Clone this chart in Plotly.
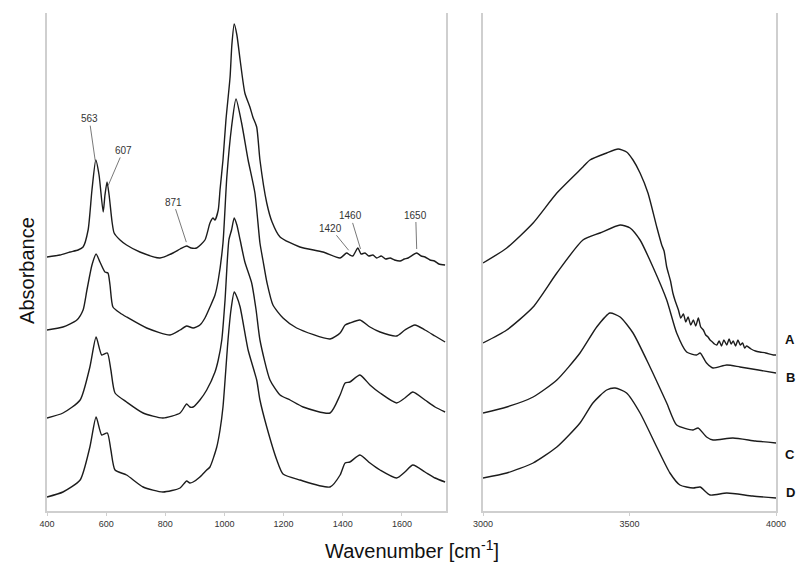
import numpy as np
import plotly.graph_objects as go

# ---------------- data (wavenumber in cm-1, absorbance in offset a.u.) ----------------
# Left panel (400 - 1750 cm-1)
A_low_x = [400, 444, 478, 505, 522, 539, 552, 565, 576, 590, 596, 603, 610, 620, 627, 647, 669, 714,
           782, 826, 850, 872, 887, 906, 934, 951, 961, 968, 979, 985, 995, 1005, 1019, 1025, 1033,
           1042, 1053, 1069, 1086, 1096, 1109, 1120, 1143, 1161, 1188, 1255, 1333, 1391, 1413, 1424,
           1434, 1451, 1462, 1475, 1488, 1502, 1515, 1530, 1545, 1560, 1575, 1594, 1608, 1621, 1650,
           1665, 1678, 1695, 1710, 1725, 1746]
A_low_y = [2.54, 2.56, 2.59, 2.61, 2.64, 2.81, 3.21, 3.51, 3.36, 2.99, 3.16, 3.29, 3.16, 2.89, 2.78,
           2.71, 2.66, 2.59, 2.53, 2.58, 2.62, 2.65, 2.63, 2.63, 2.71, 2.88, 2.93, 2.91, 3.01, 3.21,
           3.51, 3.91, 4.34, 4.66, 4.87, 4.76, 4.51, 4.18, 4.04, 3.94, 3.84, 3.51, 3.08, 2.89, 2.74,
           2.64, 2.59, 2.53, 2.58, 2.56, 2.55, 2.63, 2.57, 2.58, 2.55, 2.56, 2.53, 2.55, 2.52, 2.53,
           2.51, 2.50, 2.52, 2.53, 2.58, 2.55, 2.54, 2.51, 2.50, 2.47, 2.46]

B_low_x = [400, 454, 501, 522, 535, 552, 566, 579, 596, 606, 613, 623, 647, 669, 737, 816, 850, 872,
           894, 917, 934, 951, 968, 979, 995, 1008, 1024, 1039, 1058, 1080, 1103, 1120, 1130, 1144,
           1164, 1198, 1244, 1357, 1391, 1408, 1424, 1458, 1492, 1526, 1582, 1610, 1644, 1678, 1712,
           1746]
B_low_y = [1.81, 1.84, 1.91, 2.01, 2.21, 2.46, 2.57, 2.49, 2.39, 2.38, 2.26, 2.04, 1.98, 1.94, 1.83,
           1.76, 1.81, 1.85, 1.83, 1.86, 1.93, 2.04, 2.16, 2.31, 2.68, 3.34, 3.84, 4.12, 3.88, 3.51,
           3.18, 2.68, 2.51, 2.28, 2.06, 1.93, 1.83, 1.72, 1.78, 1.86, 1.88, 1.91, 1.84, 1.79, 1.75,
           1.81, 1.86, 1.81, 1.75, 1.69]

C_low_x = [400, 454, 512, 545, 566, 585, 604, 616, 630, 669, 725, 792, 850, 872, 883, 894, 917, 940,
           968, 979, 991, 1002, 1015, 1024, 1033, 1042, 1053, 1069, 1092, 1107, 1120, 1154, 1188,
           1222, 1266, 1357, 1391, 1408, 1424, 1458, 1492, 1526, 1582, 1610, 1637, 1678, 1712, 1746]
C_low_y = [0.93, 0.98, 1.11, 1.44, 1.74, 1.56, 1.58, 1.41, 1.18, 1.09, 0.98, 0.93, 0.98, 1.07, 1.04,
           1.04, 1.11, 1.21, 1.39, 1.51, 1.71, 2.11, 2.71, 2.81, 2.93, 2.86, 2.71, 2.49, 2.28, 2.01,
           1.71, 1.31, 1.16, 1.11, 1.04, 0.98, 1.16, 1.28, 1.29, 1.36, 1.26, 1.18, 1.08, 1.13, 1.19,
           1.11, 1.04, 0.99]

D_low_x = [400, 454, 512, 545, 566, 585, 604, 616, 630, 669, 725, 792, 850, 872, 883, 894, 917, 940,
           951, 974, 985, 995, 1012, 1022, 1033, 1042, 1053, 1080, 1109, 1120, 1143, 1177, 1198,
           1255, 1357, 1391, 1408, 1424, 1458, 1492, 1526, 1582, 1610, 1637, 1678, 1712, 1746]
D_low_y = [0.14, 0.19, 0.31, 0.64, 0.94, 0.76, 0.78, 0.61, 0.41, 0.36, 0.24, 0.19, 0.23, 0.30, 0.28,
           0.29, 0.34, 0.41, 0.44, 0.64, 0.81, 1.04, 1.71, 2.01, 2.19, 2.14, 2.04, 1.61, 1.31, 1.11,
           0.84, 0.51, 0.37, 0.31, 0.24, 0.36, 0.48, 0.49, 0.56, 0.48, 0.41, 0.33, 0.39, 0.46, 0.39,
           0.33, 0.29]

# Right panel (3000 - 4000 cm-1)
A_high_x = [3000, 3081, 3171, 3252, 3341, 3365, 3422, 3461, 3490, 3512, 3536, 3563, 3593, 3610, 3618,
            3627, 3640, 3648, 3656, 3667, 3675, 3684, 3692, 3700, 3709, 3718, 3726, 3735, 3743, 3752,
            3760, 3768, 3775, 3783, 3790, 3798, 3806, 3814, 3822, 3832, 3840, 3847, 3854, 3862, 3870,
            3878, 3886, 3893, 3900, 3915, 3930, 3945, 3965, 3991, 4000]
A_high_y = [2.48, 2.63, 2.88, 3.18, 3.44, 3.51, 3.58, 3.62, 3.59, 3.51, 3.38, 3.18, 2.84, 2.66, 2.60,
            2.44, 2.30, 2.18, 2.10, 2.01, 1.93, 1.97, 1.89, 1.94, 1.86, 1.91, 1.85, 1.93, 1.84, 1.81,
            1.76, 1.74, 1.71, 1.69, 1.67, 1.66, 1.70, 1.65, 1.71, 1.66, 1.72, 1.67, 1.70, 1.65, 1.71,
            1.66, 1.68, 1.63, 1.65, 1.62, 1.60, 1.59, 1.58, 1.56, 1.56]

B_high_x = [3000, 3081, 3171, 3252, 3341, 3399, 3468, 3502, 3536, 3580, 3627, 3661, 3695, 3729, 3741,
            3763, 3785, 3832, 3877, 3940, 4000]
B_high_y = [1.68, 1.81, 2.04, 2.38, 2.71, 2.78, 2.86, 2.83, 2.71, 2.44, 2.11, 1.78, 1.59, 1.56, 1.58,
            1.48, 1.43, 1.46, 1.44, 1.41, 1.38]

C_high_x = [3000, 3081, 3171, 3252, 3331, 3388, 3433, 3468, 3512, 3570, 3627, 3661, 3717, 3734, 3763,
            3785, 3853, 3930, 4000]
C_high_y = [0.98, 1.04, 1.14, 1.31, 1.58, 1.84, 1.98, 1.94, 1.78, 1.44, 1.08, 0.86, 0.81, 0.83, 0.74,
            0.71, 0.73, 0.70, 0.68]

D_high_x = [3000, 3081, 3171, 3252, 3331, 3375, 3422, 3451, 3490, 3536, 3593, 3638, 3672, 3717, 3741,
            3775, 3832, 3920, 4000]
D_high_y = [0.33, 0.38, 0.48, 0.64, 0.88, 1.08, 1.21, 1.23, 1.18, 0.98, 0.64, 0.38, 0.26, 0.23, 0.24,
            0.16, 0.18, 0.15, 0.13]

sample_names = ["A", "B", "C", "D"]
peak_labels = [563, 607, 871, 1420, 1460, 1650]
low_ticks = [400, 600, 800, 1000, 1200, 1400, 1600]
high_ticks = [3000, 3500, 4000]

# ---------------- styling / layout ----------------
LINE = "#1c1c1c"
AXIS = "#cfcfcf"
FONT = "Liberation Sans, Arial, sans-serif"
NARROW = "Liberation Sans Narrow, Liberation Sans, Arial, sans-serif"

low_series = [(A_low_x, A_low_y), (B_low_x, B_low_y), (C_low_x, C_low_y), (D_low_x, D_low_y)]
high_series = [(A_high_x, A_high_y), (B_high_x, B_high_y), (C_high_x, C_high_y), (D_high_x, D_high_y)]

fig = go.Figure()
for name, (lx, ly), (hx, hy) in zip(sample_names, low_series, high_series):
    fig.add_trace(go.Scatter(x=lx, y=ly, mode="lines", name=name, xaxis="x", yaxis="y",
                             line=dict(color=LINE, width=1.4, shape="spline", smoothing=0.6),
                             showlegend=False, hoverinfo="skip"))
    fig.add_trace(go.Scatter(x=hx, y=hy, mode="lines", name=name, xaxis="x2", yaxis="y2",
                             line=dict(color=LINE, width=1.4, shape="spline", smoothing=0.6),
                             showlegend=False, hoverinfo="skip"))

# peak labels on spectrum A (pixel offsets of the text from the marked point)
label_offsets = {563: (-6, -42), 607: (15, -35), 871: (-13, -40),
                 1420: (-18, -22), 1460: (-10, -33), 1650: (-1, -34)}
annotations = []
for p in peak_labels:
    ax, ay = label_offsets[p]
    annotations.append(dict(x=p, y=float(np.interp(p, A_low_x, A_low_y)) + 0.04, xref="x", yref="y",
                            text=str(p), showarrow=True, arrowhead=0, arrowwidth=0.8,
                            arrowcolor="#555555", ax=ax, ay=ay, standoff=0,
                            font=dict(family=FONT, size=10, color="#333333")))

# sample letters right of the high-wavenumber panel
letter_y = [1.72, 1.34, 0.57, 0.19]
for name, yv in zip(sample_names, letter_y):
    annotations.append(dict(x=4000, y=yv, xref="x2", yref="y2", text="<b>%s</b>" % name,
                            showarrow=False, xanchor="center", xshift=14,
                            font=dict(family=FONT, size=13, color="#111111")))

annotations.append(dict(x=0.5, y=-0.078, xref="paper", yref="paper",
                        text="Wavenumber [cm<sup>-1</sup>]", showarrow=False,
                        xanchor="center", yanchor="middle",
                        font=dict(family=FONT, size=20, color="#111111")))
annotations.append(dict(x=-0.0275, y=0.484, xref="paper", yref="paper", text="Absorbance",
                        textangle=-90, showarrow=False, xanchor="center", yanchor="middle",
                        font=dict(family=FONT, size=20, color="#111111")))

xcommon = dict(showgrid=False, zeroline=False, showline=True, linecolor=AXIS, linewidth=1.5,
               ticks="outside", ticklen=3, tickcolor=AXIS,
               tickfont=dict(family=NARROW, size=9, color="#333333"), fixedrange=True)
ycommon = dict(showgrid=False, zeroline=False, showline=True, mirror=True, linecolor=AXIS,
               linewidth=1.5, showticklabels=False, ticks="", range=[0, 4.98], fixedrange=True)

fig.update_layout(
    width=805, height=569,
    margin=dict(l=47, r=29, t=13, b=58),
    paper_bgcolor="white", plot_bgcolor="white",
    xaxis=dict(domain=[0, 0.5473], range=[400, 1749], tickvals=low_ticks, anchor="y", **xcommon),
    yaxis=dict(anchor="x", **ycommon),
    xaxis2=dict(domain=[0.5981, 1], range=[3000, 4000], tickvals=high_ticks, anchor="y2", **xcommon),
    yaxis2=dict(anchor="x2", **ycommon),
    annotations=annotations,
    showlegend=False,
)

fig.write_html("out.html", config={"displayModeBar": False},
               post_script="document.body.style.margin='0';document.body.style.overflow='hidden';")
